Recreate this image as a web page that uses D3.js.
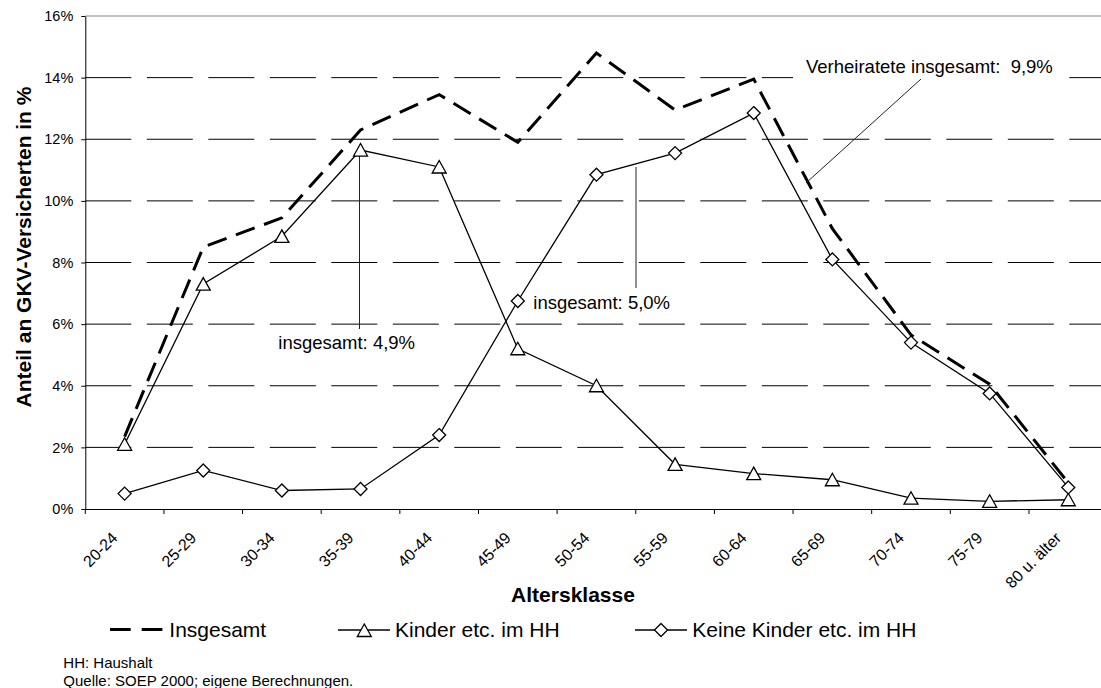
<!DOCTYPE html>
<html lang="de">
<head>
    <meta charset="UTF-8">
    <title>Anteil an GKV-Versicherten nach Altersklasse</title>
    <script src="https://cdn.jsdelivr.net/npm/d3@7"></script>
    <style>
      body { margin: 0; background: #fff; }
      svg { display: block; font-family: "Liberation Sans", Arial, sans-serif; }
    </style>
</head>
<body>
    <div id="container"></div>

    <script>
      // values, in percent
      const categories = ["20-24", "25-29", "30-34", "35-39", "40-44", "45-49", "50-54",
                          "55-59", "60-64", "65-69", "70-74", "75-79", "80 u. älter"];
      const insgesamt = [2.35, 8.5, 9.45, 12.3, 13.45, 11.9, 14.8, 12.95, 13.95, 9.1, 5.65, 4.05, 0.85];
      const kinder = [2.1, 7.3, 8.85, 11.65, 11.1, 5.2, 4.0, 1.45, 1.15, 0.95, 0.35, 0.25, 0.3];
      const keineKinder = [0.5, 1.25, 0.6, 0.65, 2.4, 6.75, 10.85, 11.55, 12.85, 8.1, 5.4, 3.75, 0.7];
      const yTicks = [0, 2, 4, 6, 8, 10, 12, 14, 16];
      const legendLabels = ["Insgesamt", "Kinder etc. im HH", "Keine Kinder etc. im HH"];
      const notes = ["HH: Haushalt", "Quelle: SOEP 2000; eigene Berechnungen."];

      const width = 1101;
      const height = 688;
      const marginTop = 16;
      const marginLeft = 85.3;
      const plotBottom = 509;
      const plotRight = 1107.6;   // the plot runs a bit past the picture edge

      const x = d3.scaleBand()
          .domain(categories)
          .range([marginLeft, plotRight])
          .padding(0);
      const bw = x.bandwidth();
      const cx = c => x(c) + bw / 2;

      const y = d3.scaleLinear()
          .domain([0, 16])
          .range([plotBottom, marginTop]);

      const triangle = "M0,-6.5L7,6L-7,6Z";
      const diamond = "M0,-6.5L6.5,0L0,6.5L-6.5,0Z";

      const svg = d3.create("svg")
          .attr("width", width)
          .attr("height", height)
          .attr("viewBox", [0, 0, width, height]);

      svg.append("rect").attr("width", width).attr("height", height).attr("fill", "#fff");

      // gridlines
      svg.append("g")
        .selectAll("line")
        .data(yTicks.filter(d => d > 0 && d < 16))
        .join("line")
          .attr("x1", marginLeft)
          .attr("x2", width)
          .attr("y1", d => y(d))
          .attr("y2", d => y(d))
          .attr("stroke", "#000")
          .attr("stroke-width", 1)
          .attr("stroke-dasharray", "46,15.5");

      svg.append("line")
          .attr("x1", marginLeft).attr("x2", width)
          .attr("y1", y(16)).attr("y2", y(16))
          .attr("stroke", "#888");

      // y axis
      const yAxis = svg.append("g")
          .attr("transform", `translate(${marginLeft},0)`)
          .call(d3.axisLeft(y).tickValues(yTicks).tickSize(4).tickSizeOuter(0)
              .tickPadding(8).tickFormat(d => d + "%"));
      yAxis.select(".domain").attr("stroke", "#000");
      yAxis.selectAll("text")
          .attr("font-size", 14.5)
          .attr("font-family", null)
          .attr("fill", "#000");

      // x axis, ticks between categories
      const xAxis = svg.append("g")
          .attr("transform", `translate(0,${plotBottom})`)
          .call(d3.axisBottom(x).tickSize(5).tickSizeOuter(0));
      xAxis.select(".domain").attr("stroke", "#000");
      xAxis.selectAll(".tick line")
          .attr("x1", -bw / 2).attr("x2", -bw / 2);
      xAxis.selectAll(".tick text")
          .attr("font-size", 16)
          .attr("font-family", null)
          .attr("fill", "#000")
          .attr("text-anchor", "end")
          .attr("y", 0)
          .attr("dy", 0)
          .attr("transform", "translate(-6,30) rotate(-45)");

      // axis titles
      svg.append("text")
          .attr("transform", "translate(31,247) rotate(-90)")
          .attr("text-anchor", "middle")
          .attr("font-size", 21)
          .attr("font-weight", "bold")
          .text("Anteil an GKV-Versicherten in %");

      svg.append("text")
          .attr("x", 573)
          .attr("y", 601.5)
          .attr("text-anchor", "middle")
          .attr("font-size", 21)
          .attr("font-weight", "bold")
          .text("Altersklasse");

      // series
      const line = d3.line()
          .x((d, i) => cx(categories[i]))
          .y(d => y(d));

      svg.append("path")
          .datum(insgesamt)
          .attr("fill", "none")
          .attr("stroke", "#000")
          .attr("stroke-width", 3)
          .attr("stroke-dasharray", "20,10")
          .attr("d", line);

      svg.append("path")
          .datum(kinder)
          .attr("fill", "none")
          .attr("stroke", "#000")
          .attr("stroke-width", 1.3)
          .attr("d", line);

      svg.append("path")
          .datum(keineKinder)
          .attr("fill", "none")
          .attr("stroke", "#000")
          .attr("stroke-width", 1.3)
          .attr("d", line);

      // leader lines and notes in the plot
      const leaders = svg.append("g").attr("stroke", "#222").attr("stroke-width", 1);
      leaders.append("line").attr("x1", 359.5).attr("x2", 359.5).attr("y1", 155).attr("y2", 329);
      leaders.append("line").attr("x1", 636).attr("x2", 636).attr("y1", 167).attr("y2", 288);
      leaders.append("line").attr("x1", 921).attr("x2", 806).attr("y1", 79).attr("y2", 183);

      svg.append("g")
        .selectAll("path")
        .data(kinder)
        .join("path")
          .attr("transform", (d, i) => `translate(${cx(categories[i])},${y(d)})`)
          .attr("d", triangle)
          .attr("fill", "#fff")
          .attr("stroke", "#000")
          .attr("stroke-width", 1.3);

      svg.append("g")
        .selectAll("path")
        .data(keineKinder)
        .join("path")
          .attr("transform", (d, i) => `translate(${cx(categories[i])},${y(d)})`)
          .attr("d", diamond)
          .attr("fill", "#fff")
          .attr("stroke", "#000")
          .attr("stroke-width", 1.3);

      svg.append("rect")
          .attr("x", 793).attr("y", 52)
          .attr("width", 275).attr("height", 27)
          .attr("fill", "#fff");

      const annot = svg.append("g")
          .attr("font-size", 18.5)
          .attr("fill", "#000");
      annot.append("text").attr("x", 278.3).attr("y", 349).text("insgesamt: 4,9%");
      annot.append("text").attr("x", 533.3).attr("y", 309.3).text("insgesamt: 5,0%");
      annot.append("text").attr("x", 806).attr("y", 73.3).text("Verheiratete insgesamt:\u00a0 9,9%");

      // legend
      const legend = svg.append("g").attr("font-size", 21);
      legend.append("line")
          .attr("x1", 110).attr("x2", 163).attr("y1", 629.5).attr("y2", 629.5)
          .attr("stroke", "#000").attr("stroke-width", 3)
          .attr("stroke-dasharray", "20.7,11");
      legend.append("text").attr("x", 169.3).attr("y", 637).text(legendLabels[0]);

      legend.append("line")
          .attr("x1", 338).attr("x2", 390).attr("y1", 630).attr("y2", 630)
          .attr("stroke", "#000").attr("stroke-width", 1.3);
      legend.append("path")
          .attr("transform", "translate(364.3,630.5)")
          .attr("d", triangle)
          .attr("fill", "#fff").attr("stroke", "#000").attr("stroke-width", 1.3);
      legend.append("text").attr("x", 395).attr("y", 637).text(legendLabels[1]);

      legend.append("line")
          .attr("x1", 635).attr("x2", 687).attr("y1", 630).attr("y2", 630)
          .attr("stroke", "#000").attr("stroke-width", 1.3);
      legend.append("path")
          .attr("transform", "translate(661,630)")
          .attr("d", diamond)
          .attr("fill", "#fff").attr("stroke", "#000").attr("stroke-width", 1.3);
      legend.append("text").attr("x", 692.3).attr("y", 637).text(legendLabels[2]);

      // notes under the chart
      svg.append("g")
          .attr("font-size", 15)
        .selectAll("text")
        .data(notes)
        .join("text")
          .attr("x", 63.3)
          .attr("y", (d, i) => 668.3 + i * 17.4)
          .text(d => d);

      document.getElementById("container").append(svg.node());
    </script>
</body>
</html>
